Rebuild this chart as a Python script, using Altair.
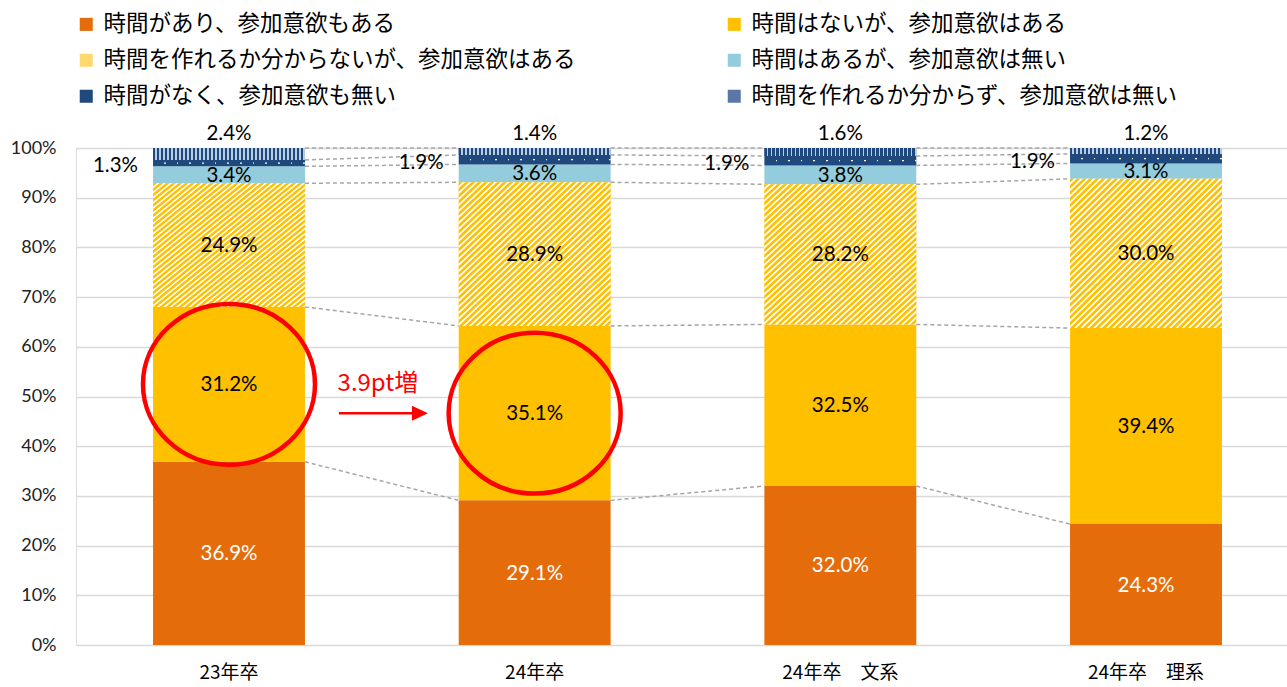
import altair as alt
import pandas as pd

years = ["23年卒", "24年卒", "24年卒　文系", "24年卒　理系"]
categories = [
    "時間があり、参加意欲もある",
    "時間はないが、参加意欲はある",
    "時間を作れるか分からないが、参加意欲はある",
    "時間はあるが、参加意欲は無い",
    "時間がなく、参加意欲も無い",
    "時間を作れるか分からず、参加意欲は無い",
]
s1 = [36.9, 29.1, 32.0, 24.3]
s2 = [31.2, 35.1, 32.5, 39.4]
s3 = [24.9, 28.9, 28.2, 30.0]
s4 = [3.4, 3.6, 3.8, 3.1]
s5 = [1.3, 1.9, 1.9, 1.9]
s6 = [2.4, 1.4, 1.6, 1.2]
series = [s1, s2, s3, s4, s5, s6]
colors = ["#E46C0A", "#FFC000", "#FFD870", "#93CDDD", "#1F497D", "#5A77A6"]
y_ticks = [0, 0.1, 0.2, 0.3, 0.4, 0.5, 0.6, 0.7, 0.8, 0.9, 1.0]

FONT = "Noto Sans CJK JP"
NUMFONT = "Lato"

# ---- build stacked table (normalised like a 100% stacked chart)
rows = []
cums = {}
for j, yr in enumerate(years):
    total = sum(s[j] for s in series)
    c = 0.0
    cums[yr] = []
    for i, (cat, s) in enumerate(zip(categories, series)):
        y0 = c / total
        c += s[j]
        y1 = c / total
        cums[yr].append(y1)
        rows.append(dict(year=yr, cat=cat, idx=i, value=s[j], y0=y0, y1=y1,
                         mid=(y0 + y1) / 2, label=f"{s[j]:.1f}%",
                         tc="white" if i == 0 else "black",
                         d0=(y0 + y1) / 2 - 0.0012, d1=(y0 + y1) / 2 + 0.0012))
df = pd.DataFrame(rows)

conn = []
for j in range(len(years) - 1):
    for i in range(len(categories)):
        conn.append(dict(year=years[j], year2=years[j + 1],
                         ya=cums[years[j]][i], yb=cums[years[j + 1]][i]))
conn_df = pd.DataFrame(conn)

seg2 = df[df.idx == 1].reset_index(drop=True)
circ_df = seg2.iloc[:2]
diff = s2[1] - s2[0]
ann_df = pd.DataFrame([dict(year=years[0], ytext=seg2.loc[0, "mid"],
                            yarrow=seg2.loc[1, "mid"], text=f"{diff:.1f}pt増")])


def stripes(c1, c2, n, frac, x2, y2, soft=0.0):
    stops = []
    for k in range(n):
        a = k / n
        b = (k + frac) / n
        e = (k + 1) / n
        sf = soft / n
        stops += [alt.GradientStop(color=c1, offset=round(a + sf, 5)),
                  alt.GradientStop(color=c1, offset=round(b - sf, 5)),
                  alt.GradientStop(color=c2, offset=round(b + sf, 5)),
                  alt.GradientStop(color=c2, offset=round(e - sf, 5))]
    return alt.LinearGradient(gradient="linear", stops=stops, x1=0, y1=0, x2=x2, y2=y2)


hatch = stripes("#FFC000", "#FFFFFF", 48, 0.6, 1, 1, soft=0.1)
vstripe = stripes("#1F497D", "#B8CCE4", 38, 0.6, 1, 0)
dots = stripes("rgba(255,255,255,0)", "#FFFFFF", 12, 0.88, 1, 0)

xscale = alt.Scale(range=[0, 1223], paddingInner=0.503, paddingOuter=0.252)
yscale = alt.Scale(domain=[0, 1], nice=False)

# legend fills column by column: left column 1,3,5 / right column 2,4,6
legend_order = [categories[i] for i in (0, 2, 4, 1, 3, 5)]
legend_colors = [colors[i] for i in (0, 2, 4, 1, 3, 5)]

X = alt.X("year:N", sort=years, scale=xscale,
          axis=alt.Axis(title=None, labelAngle=0, domain=False, ticks=False,
                        labelFont=FONT, labelFontSize=19, labelColor="#000000",
                        labelPadding=18))
base = alt.Chart(df)

bars = base.mark_bar().encode(
    x=X,
    y=alt.Y("y0:Q", scale=yscale,
            axis=alt.Axis(title=None, values=y_ticks, format=".0%", domain=False,
                          ticks=False, grid=True, gridColor="#D9D9D9", gridWidth=1.3,
                          labelFont=NUMFONT, labelFontSize=18, labelColor="#222222",
                          labelPadding=20)),
    y2="y1:Q",
    color=alt.Color("cat:N", scale=alt.Scale(domain=legend_order, range=legend_colors),
                    legend=alt.Legend(title=None, orient="none", legendX=-1, legendY=-135,
                                      columns=2, columnPadding=147, rowPadding=13,
                                      symbolType="square", symbolSize=170,
                                      symbolStrokeWidth=0, labelFont=FONT,
                                      labelFontSize=22.5, labelColor="#000000",
                                      labelLimit=700, labelOffset=6)),
)

hatch_l = base.transform_filter("datum.idx == 2").mark_bar(fill=hatch).encode(
    x=alt.X("year:N", sort=years), y="y0:Q", y2="y1:Q")
vs_l = base.transform_filter("datum.idx == 5").mark_bar(fill=vstripe).encode(
    x=alt.X("year:N", sort=years), y="y0:Q", y2="y1:Q")
dot_l = base.transform_filter("datum.idx == 4").mark_bar(fill=dots).encode(
    x=alt.X("year:N", sort=years), y="d0:Q", y2="d1:Q")

connectors = alt.Chart(conn_df).mark_rule(color="#A6A6A6", strokeDash=[4, 3],
                                          strokeWidth=1.5).encode(
    x=alt.X("year:N", sort=years, bandPosition=1),
    x2=alt.X2("year2:N", bandPosition=0),
    y="ya:Q", y2="yb:Q")

in_labels = base.transform_filter("datum.idx <= 3").mark_text(
    font=NUMFONT, fontSize=20.5, baseline="middle", dy=1).encode(
    x=alt.X("year:N", sort=years), y="mid:Q", text="label:N",
    color=alt.Color("tc:N", scale=None))
left_labels = base.transform_filter("datum.idx == 4").mark_text(
    font=NUMFONT, fontSize=20.5, baseline="middle", align="right", dx=-15, dy=3,
    color="#000000").encode(
    x=alt.X("year:N", sort=years, bandPosition=0), y="mid:Q", text="label:N")
top_labels = base.transform_filter("datum.idx == 5").mark_text(
    font=NUMFONT, fontSize=20.5, baseline="middle", dy=-14, color="#000000").encode(
    x=alt.X("year:N", sort=years), y="y1:Q", text="label:N")

ellipse = "M -1 0 A 1 0.935 0 1 0 1 0 A 1 0.935 0 1 0 -1 0 Z"
circles = alt.Chart(circ_df).mark_point(shape=ellipse, size=172 ** 2, filled=False,
                                        stroke="#FF0000", strokeWidth=4.5,
                                        opacity=1).encode(
    x=alt.X("year:N", sort=years), y="mid:Q")

# annotation anchored at the right edge of the first bar
ann_text = alt.Chart(ann_df).mark_text(font=FONT, fontSize=24, color="#FF0000",
                                       baseline="middle", dx=73).encode(
    x=alt.X("year:N", sort=years, bandPosition=1), y="ytext:Q", text="text:N")
arrow_path = ("M 0.68 -0.025 L 2.14 -0.025 L 2.14 -0.15 L 2.46 0 L 2.14 0.15 "
              "L 2.14 0.025 L 0.68 0.025 Z")
arrow = alt.Chart(ann_df).mark_point(shape=arrow_path, size=10000, filled=True,
                                     fill="#FF0000", strokeWidth=0, opacity=1).encode(
    x=alt.X("year:N", sort=years, bandPosition=1), y="yarrow:Q")

chart = alt.layer(bars, hatch_l, vs_l, dot_l, connectors, circles, in_labels,
                  left_labels, top_labels, ann_text, arrow).properties(
    width=1211, height=497,
    autosize=alt.AutoSizeParams(type="none"),
    padding={"left": 76, "top": 148, "right": 0, "bottom": 42},
).configure_view(stroke=None).configure(font=FONT)

chart.save("out.html", embed_options={"renderer": "svg", "actions": False})
